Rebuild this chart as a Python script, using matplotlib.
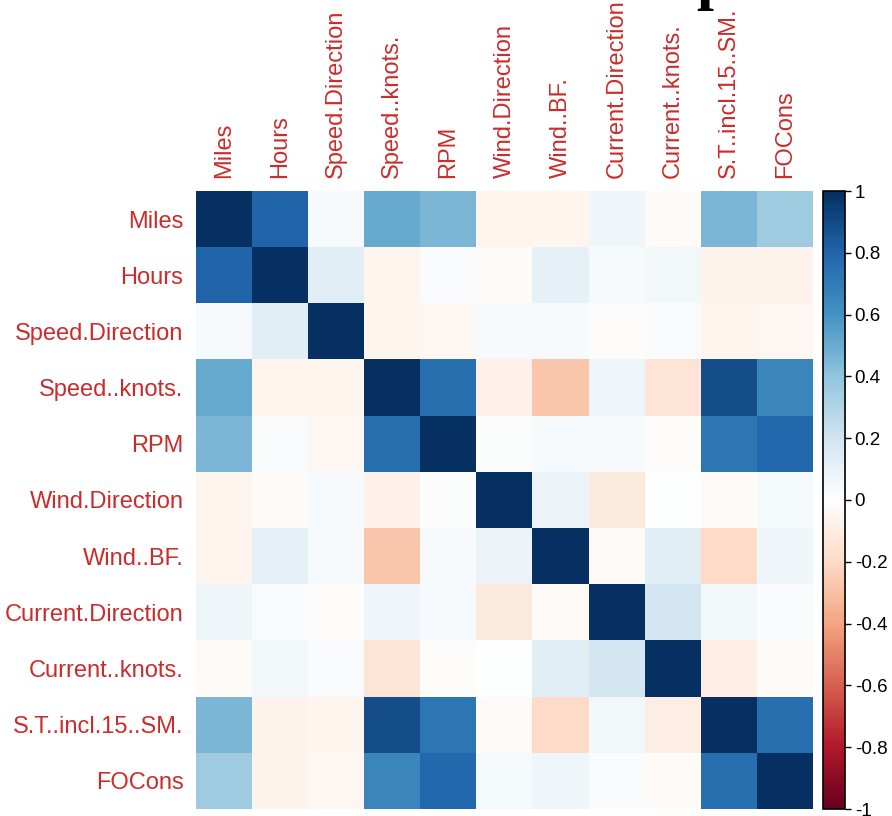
import numpy as np
import matplotlib
matplotlib.use("Agg")
import matplotlib.pyplot as plt
from matplotlib.colors import LinearSegmentedColormap

variables = ["Miles", "Hours", "Speed.Direction", "Speed..knots.", "RPM",
             "Wind.Direction", "Wind..BF.", "Current.Direction", "Current..knots.",
             "S.T..incl.15..SM.", "FOCons"]

corr_miles     = [1.00, 0.80, 0.03, 0.50, 0.45, -0.06, -0.06, 0.06, -0.03, 0.45, 0.35]
corr_hours     = [0.80, 1.00, 0.12, -0.06, 0.02, -0.03, 0.10, 0.03, 0.05, -0.07, -0.07]
corr_speed_dir = [0.03, 0.12, 1.00, -0.06, -0.05, 0.03, 0.03, -0.02, 0.02, -0.06, -0.05]
corr_speed_kn  = [0.50, -0.06, -0.06, 1.00, 0.75, -0.08, -0.28, 0.06, -0.15, 0.88, 0.65]
corr_rpm       = [0.45, 0.02, -0.05, 0.75, 1.00, 0.01, 0.03, 0.03, -0.02, 0.72, 0.78]
corr_wind_dir  = [-0.06, -0.03, 0.03, -0.08, 0.01, 1.00, 0.08, -0.12, 0.00, -0.03, 0.04]
corr_wind_bf   = [-0.06, 0.10, 0.03, -0.28, 0.03, 0.08, 1.00, -0.03, 0.12, -0.20, 0.06]
corr_curr_dir  = [0.06, 0.02, -0.02, 0.06, 0.03, -0.12, -0.03, 1.00, 0.18, 0.05, 0.02]
corr_curr_kn   = [-0.03, 0.05, 0.02, -0.15, -0.02, 0.00, 0.12, 0.18, 1.00, -0.10, -0.03]
corr_st        = [0.45, -0.07, -0.06, 0.88, 0.72, -0.03, -0.20, 0.05, -0.10, 1.00, 0.75]
corr_focons    = [0.35, -0.07, -0.05, 0.65, 0.78, 0.04, 0.06, 0.02, -0.03, 0.75, 1.00]

cbar_ticks = [-1, -0.8, -0.6, -0.4, -0.2, 0, 0.2, 0.4, 0.6, 0.8, 1]
cbar_labels = ["-1", "-0.8", "-0.6", "-0.4", "-0.2", "0", "0.2", "0.4", "0.6", "0.8", "1"]

corr = np.array([corr_miles, corr_hours, corr_speed_dir, corr_speed_kn, corr_rpm,
                 corr_wind_dir, corr_wind_bf, corr_curr_dir, corr_curr_kn,
                 corr_st, corr_focons])

cmap = LinearSegmentedColormap.from_list(
    "corrplot",
    ["#67001F", "#B2182B", "#D6604D", "#F4A582", "#FDDBC7", "#FFFFFF",
     "#D1E5F0", "#92C5DE", "#4393C3", "#2166AC", "#053061"], N=200)

W, H = 892, 816
fig = plt.figure(figsize=(W / 100, H / 100), dpi=100)

def frac(x0, y0, x1, y1):
    return [x0 / W, 1 - y1 / H, (x1 - x0) / W, (y1 - y0) / H]

ax = fig.add_axes(frac(196, 191, 813, 809))
im = ax.imshow(corr, cmap=cmap, vmin=-1, vmax=1, aspect="auto", interpolation="nearest")
n = len(variables)
ax.set_xticks(range(n))
ax.set_yticks(range(n))
label_color = "#CC2B2B"
ax.set_yticklabels(variables, fontsize=17, color=label_color, family="Liberation Sans")
ax.set_xticklabels(variables, fontsize=17, color=label_color, family="Liberation Sans",
                   rotation=90)
ax.xaxis.tick_top()
ax.tick_params(axis="y", length=0, pad=9)
ax.tick_params(axis="x", length=0, pad=9)
for s in ax.spines.values():
    s.set_visible(False)

cax = fig.add_axes(frac(823, 191, 845, 809))
cb = fig.colorbar(im, cax=cax, ticks=cbar_ticks)
cb.set_ticklabels(cbar_labels)
cb.outline.set_linewidth(1.2)
cax.tick_params(labelsize=13.5, length=4, width=1, pad=3, colors="black")
for t in cax.get_yticklabels():
    t.set_family("Liberation Sans")

fig.text(731 / W, 1 + 2 / H, "Correlation Heatmap", ha="right", va="baseline",
         fontsize=44, fontweight="bold", family="Liberation Serif")

fig.savefig("out.png", dpi=100)
